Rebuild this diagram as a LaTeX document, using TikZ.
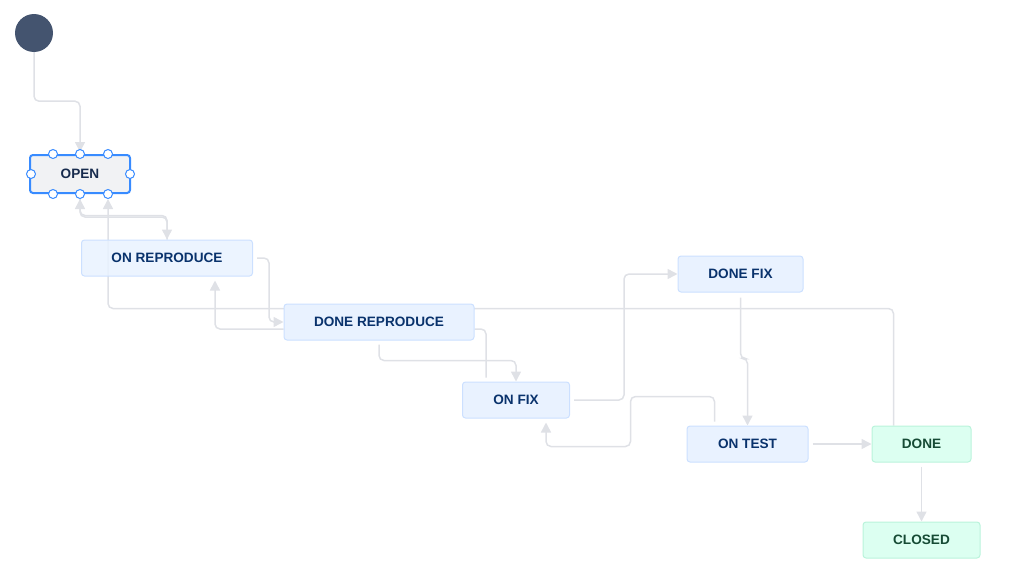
\documentclass[tikz,border=0pt]{standalone}
\usepackage{fontspec}
\setmainfont{Liberation Sans}
\usepackage{tikz}
\usetikzlibrary{arrows.meta, backgrounds}
\definecolor{lnk}{HTML}{DFE1E6}
\definecolor{bfill}{HTML}{E9F2FF}
\definecolor{bline}{HTML}{CCE0FF}
\definecolor{btext}{HTML}{09326C}
\definecolor{gfill}{HTML}{DCFFF1}
\definecolor{gline}{HTML}{BAF3DB}
\definecolor{gtext}{HTML}{164B35}
\definecolor{sel}{HTML}{388BFF}
\definecolor{ofill}{HTML}{F1F2F4}
\definecolor{otext}{HTML}{172B4D}
\definecolor{initc}{HTML}{44546F}
\newcommand{\lbl}[1]{\fontsize{13.6}{15}\selectfont\bfseries #1}
\tikzstyle{st}=[rectangle, rounded corners=3pt, draw=bline, fill=bfill, line width=1pt, minimum height=36pt, text=btext, inner sep=0pt]
\tikzstyle{dn}=[st, draw=gline, fill=gfill, text=gtext]
\tikzstyle{handle}=[circle, draw=sel, fill=white, line width=1pt, minimum size=9pt, inner sep=0pt]
\tikzstyle{tr}=[draw=lnk, line width=1.5pt, rounded corners=5pt, -{Triangle[length=10pt, width=10pt, fill=lnk]}]

\begin{document}
\begin{tikzpicture}[x=1pt, y=-1pt]
  \useasboundingbox (0,0) rectangle (1023,581);
  \node[circle, fill=initc, minimum size=38pt, inner sep=0pt] (start) at (34,33) {};
  \node[st, draw=sel, fill=ofill, line width=2pt, minimum width=100pt, minimum height=38pt, text=otext] (open) at (80,174) {\lbl{OPEN}};
  \node[st, fill opacity=0.85, text opacity=1, minimum width=171pt] (onrep) at (167,258) {\lbl{ON REPRODUCE}};
  \node[st, minimum width=190pt] (donerep) at (379,322) {\lbl{DONE REPRODUCE}};
  \node[st, minimum width=107pt] (onfix) at (516,400) {\lbl{ON FIX}};
  \node[st, minimum width=125pt] (donefix) at (740.5,274) {\lbl{DONE FIX}};
  \node[st, minimum width=121pt] (ontest) at (747.5,444) {\lbl{ON TEST}};
  \node[dn, minimum width=99pt] (done) at (921.5,444) {\lbl{DONE}};
  \node[dn, minimum width=117pt] (closed) at (921.5,540) {\lbl{CLOSED}};
  % transitions
  \begin{pgfonlayer}{background}
  \draw[tr] (start.south) -- ++(0,49) -| ([yshift=2pt]open.north);
  \draw[tr] ([yshift=-5pt]open.south) -- ++(0,18) -| (onrep.north);
  \draw[tr] (onrep.north) -- ++(0,-24) -| ([yshift=-5pt]open.south);
  \draw[tr] ([xshift=-28pt]done.north) -- ++(0,-117) -| ([xshift=28pt, yshift=-5pt]open.south);
  \draw[tr] ([xshift=4pt]onrep.east) -- ++(12,0) |- (donerep.west);
  \draw[tr] ([yshift=-7pt]donerep.west) -| ([xshift=48pt, yshift=-4pt]onrep.south);
  \draw[tr] ([yshift=-4pt]donerep.south) -- ++(0,16) -| (onfix.north);
  \draw[tr, -] ([xshift=-30pt, yshift=4pt]onfix.north) |- ([yshift=-7pt]donerep.east);
  \draw[tr] ([xshift=4pt]onfix.east) -- ++(50,0) |- (donefix.west);
  \draw[tr] ([yshift=-5pt]donefix.south) -- ++(0,61) -| (ontest.north);
  \draw[tr] ([xshift=-33pt, yshift=4pt]ontest.north) -- ++(0,-25) -- ++(-84,0) -- ++(0,50) -| ([xshift=30pt, yshift=-4pt]onfix.south);
  \draw[tr] ([xshift=4pt]ontest.east) -- (done.west);
  \draw[tr] ([yshift=-4pt]done.south) -- (closed.north);
  \end{pgfonlayer}
  % handles on the selected state
  \foreach \a in {north, south}
    \foreach \dx in {-27, 0, 28}
      \node[handle] at ([xshift=\dx pt]open.\a) {};
  \node[handle] at ([xshift=2pt]open.west) {};
  \node[handle] at ([xshift=-1pt]open.east) {};
\end{tikzpicture}
\end{document}
